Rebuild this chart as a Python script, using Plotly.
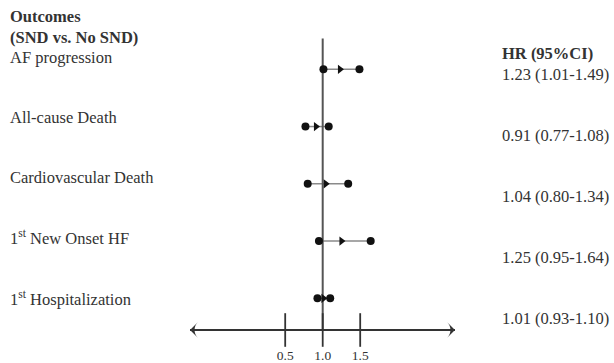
import plotly.graph_objects as go

# ---- data ----
outcomes = ["AF progression", "All-cause Death", "Cardiovascular Death",
            "1<sup>st</sup> New Onset HF", "1<sup>st</sup> Hospitalization"]
hr = [1.23, 0.91, 1.04, 1.25, 1.01]
ci_low = [1.01, 0.77, 0.80, 0.95, 0.93]
ci_high = [1.49, 1.08, 1.34, 1.64, 1.10]
tick_vals = [0.5, 1.0, 1.5]
tick_text = ["0.5", "1.0", "1.5"]
ref_value = 1.0

# ---- layout geometry (pixels) ----
W, H = 614, 363
X_REF_PX, X_SCALE = 322.7, 75.0          # px of value 1.0, px per unit
ROW0_PX, ROW_STEP = 69.3, 57.25           # px of first row, px per row
AXIS_PX = 330.0
FONT = "Liberation Serif"
TXT = "#333333"

def px_to_x(px):
    return ref_value + (px - X_REF_PX) / X_SCALE

def px_to_row(py):
    return (py - ROW0_PX) / ROW_STEP

rows = list(range(len(outcomes)))
axis_y = px_to_row(AXIS_PX)

fig = go.Figure()

# CI lines
lx, ly = [], []
for i, (lo, hi) in enumerate(zip(ci_low, ci_high)):
    lx += [lo, hi, None]
    ly += [i, i, None]
fig.add_trace(go.Scatter(x=lx, y=ly, mode="lines",
                         line=dict(color="#8a8a8a", width=1.5),
                         hoverinfo="skip", showlegend=False))

# reference vertical line
fig.add_trace(go.Scatter(x=[ref_value, ref_value],
                         y=[px_to_row(38.5), axis_y], mode="lines",
                         line=dict(color="#555555", width=2),
                         hoverinfo="skip", showlegend=False))

# CI endpoints
fig.add_trace(go.Scatter(x=ci_low + ci_high, y=rows + rows, mode="markers",
                         marker=dict(symbol="circle", size=8, color="#111111"),
                         showlegend=False))
# HR point estimate
fig.add_trace(go.Scatter(x=hr, y=rows, mode="markers",
                         marker=dict(symbol="triangle-right", size=8, color="#111111"),
                         showlegend=False))

# horizontal axis line with arrow heads
x_left, x_right = px_to_x(190), px_to_x(455)
fig.add_trace(go.Scatter(x=[x_left, x_right], y=[axis_y, axis_y], mode="lines",
                         line=dict(color="#333333", width=1.8),
                         hoverinfo="skip", showlegend=False))
fig.add_trace(go.Scatter(x=[x_left, x_right], y=[axis_y, axis_y], mode="markers",
                         marker=dict(symbol="arrow-wide", size=11, color="#333333",
                                     angle=[-90, 90]),
                         hoverinfo="skip", showlegend=False))

# tick marks
fig.add_trace(go.Scatter(x=tick_vals, y=[axis_y] * len(tick_vals), mode="markers",
                         marker=dict(symbol="line-ns", size=24,
                                     line=dict(color="#333333", width=1.8)),
                         hoverinfo="skip", showlegend=False))
# tick labels
fig.add_trace(go.Scatter(x=tick_vals, y=[px_to_row(356.5)] * len(tick_vals),
                         mode="text", text=tick_text,
                         textfont=dict(family=FONT, size=13.5, color=TXT),
                         hoverinfo="skip", showlegend=False))

def ann(text, xpx, ypx, bold=False, size=16.5):
    fig.add_annotation(x=xpx / W, y=1 - ypx / H, xref="paper", yref="paper",
                       text=f"<b>{text}</b>" if bold else text,
                       showarrow=False, xanchor="left", yanchor="middle",
                       font=dict(family=FONT, size=size, color=TXT))

ann("Outcomes", 8, 16, bold=True)
ann("(SND vs. No SND)", 8, 37, bold=True)
for i, name in enumerate(outcomes):
    ann(name, 8, 57 + i * 60.3)

ann("HR (95%CI)", 500, 53, bold=True)
for i in rows:
    ann(f"{hr[i]:.2f} ({ci_low[i]:.2f}-{ci_high[i]:.2f})", 500, 74 + i * 61.0)

fig.update_layout(
    width=W, height=H, margin=dict(l=0, r=0, t=0, b=0),
    paper_bgcolor="white", plot_bgcolor="white",
    xaxis=dict(range=[px_to_x(0), px_to_x(W)], visible=False, fixedrange=True),
    yaxis=dict(range=[px_to_row(H), px_to_row(0)], visible=False, fixedrange=True),
    showlegend=False,
)

fig.write_html("out.html")
